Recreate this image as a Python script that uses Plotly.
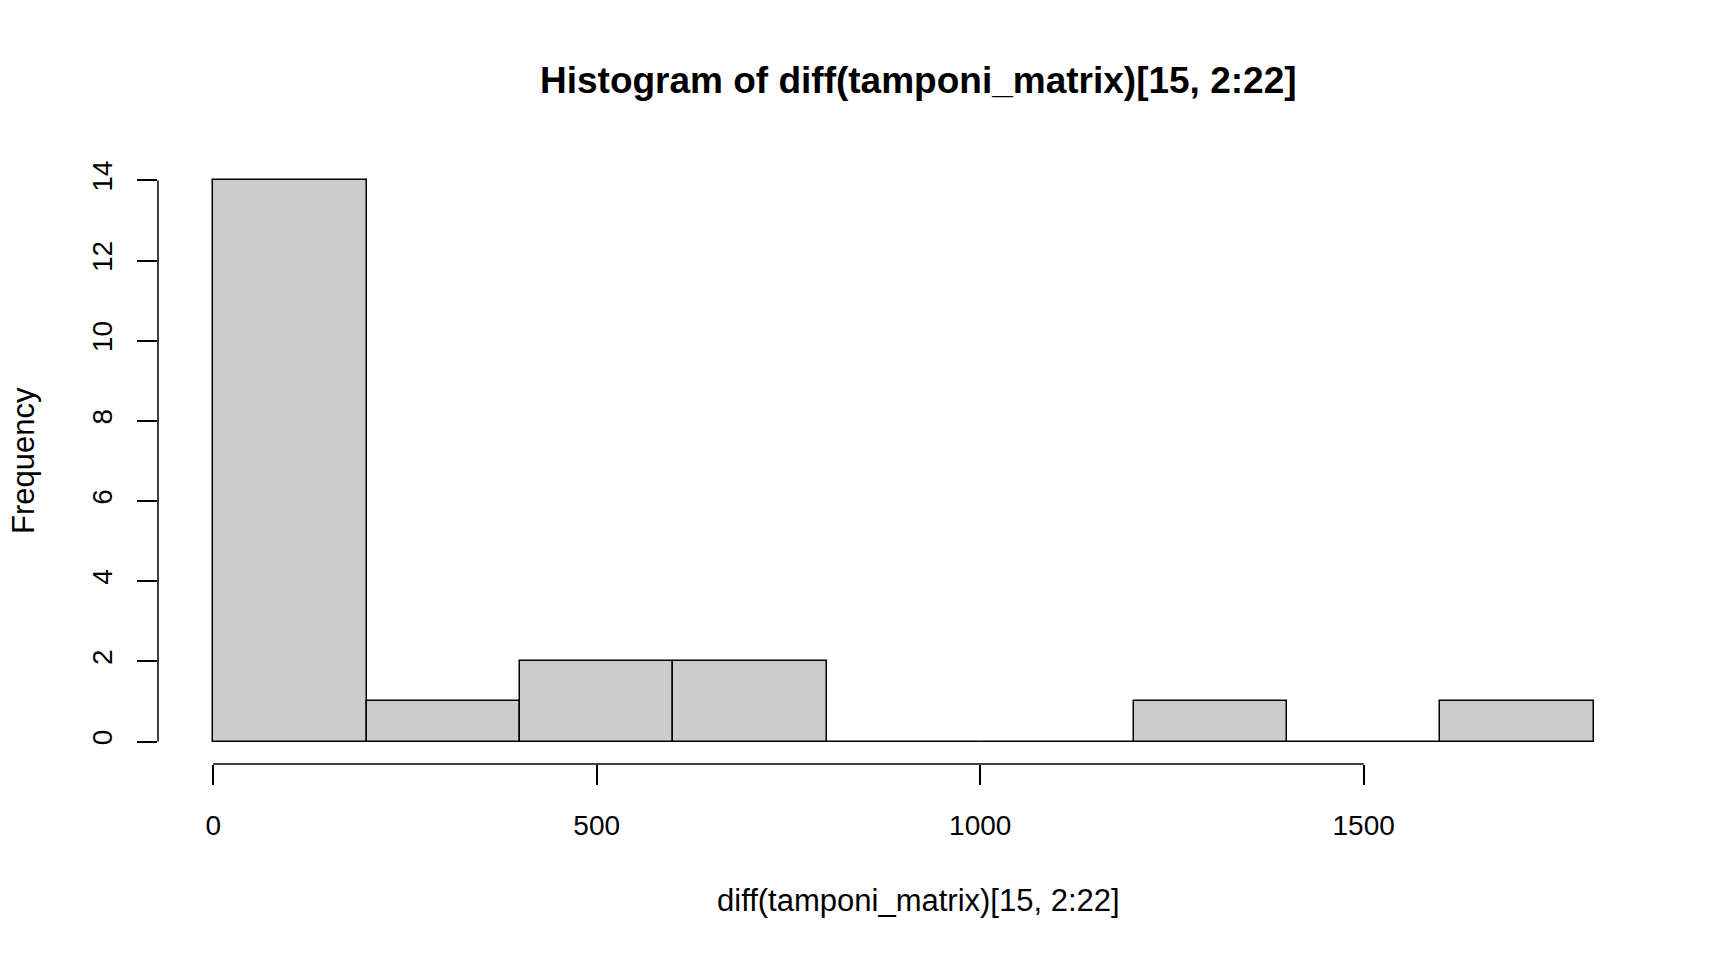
import plotly.graph_objects as go

bin_mids = [100, 300, 500, 700, 900, 1100, 1300, 1500, 1700]
counts = [14, 1, 2, 2, 0, 0, 1, 0, 1]
x_ticks = [0, 500, 1000, 1500]
y_ticks = [0, 2, 4, 6, 8, 10, 12, 14]

font = "Liberation Sans, Arial, sans-serif"

L, R, T, B = 150, 87, 150, 204
pw, ph = 1728 - L - R, 960 - T - B

fig = go.Figure()
fig.add_trace(go.Bar(x=bin_mids, y=counts, width=200,
    marker=dict(color="#CCCCCC", line=dict(color="black", width=1.5)),
    showlegend=False))

# R-style axis lines spanning only the tick range
fig.add_shape(type="line", xref="x", yref="paper", x0=x_ticks[0], x1=x_ticks[-1],
    y0=0, y1=0, line=dict(color="black", width=1.5))
fig.add_shape(type="line", xref="paper", yref="y", x0=0, x1=0,
    y0=y_ticks[0], y1=y_ticks[-1], line=dict(color="black", width=1.5))

fig.update_layout(
    width=1728, height=960,
    margin=dict(l=L, r=R, t=T, b=B),
    plot_bgcolor="white", paper_bgcolor="white",
    font=dict(family=font, size=28, color="black"),
    bargap=0,
    xaxis=dict(range=[-72, 1872], tickvals=x_ticks, ticks="outside", ticklen=20,
        tickwidth=1.5, tickcolor="black", showgrid=False, zeroline=False,
        showline=False, ticklabelstandoff=16),
    yaxis=dict(range=[-0.56, 14.56], tickvals=y_ticks, ticks="outside", ticklen=20,
        tickwidth=1.5, tickcolor="black", showgrid=False, zeroline=False,
        showline=False, tickangle=-90, ticklabelstandoff=14),
    annotations=[
        dict(text="<b>Histogram of diff(tamponi_matrix)[15, 2:22]</b>",
             x=(910 - L) / pw, y=1 + (T - 73) / ph, xref="paper", yref="paper",
             showarrow=False, yanchor="middle", font=dict(size=37)),
        dict(text="diff(tamponi_matrix)[15, 2:22]", x=(910 - L) / pw,
             y=-(893 - (960 - B)) / ph, xref="paper", yref="paper",
             showarrow=False, yanchor="middle", font=dict(size=31)),
        dict(text="Frequency", x=-(L - 15) / pw, y=0.5, xref="paper", yref="paper",
             showarrow=False, textangle=-90, xanchor="center", font=dict(size=31)),
    ],
)

fig.write_html("out.html")
